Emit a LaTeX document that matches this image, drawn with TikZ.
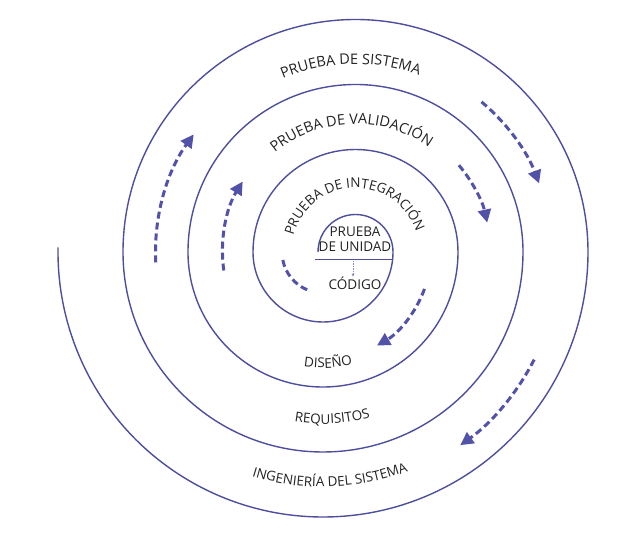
\documentclass[tikz,border=0pt]{standalone}
\usepackage{fontspec}
\setmainfont{Open Sans}
\usepackage{tikz}
\usetikzlibrary{arrows.meta,decorations.text,calc}

\definecolor{spiralblue}{HTML}{4E4E9E}
\definecolor{arrowblue}{HTML}{5252A8}
\definecolor{inktext}{HTML}{222222}
\newcommand{\ringfont}{\fontsize{13.5}{15}\selectfont}
\newcommand{\widefont}{\fontsize{14.5}{16}\selectfont}

\begin{document}
\begin{tikzpicture}[x=1pt, y=1pt,
  spiral/.style={spiralblue, line width=1.4pt},
  flow/.style={arrowblue, line width=3pt, dash pattern=on 7pt off 4pt,
    -{Triangle[length=13pt,width=13pt]}},
  ringtext/.style={decorate, decoration={text along path, text align=center,
    text color=inktext, text={|\ringfont|#1}}},
  widetext/.style={decorate, decoration={text along path, text align=center,
    text color=inktext, text={|\widefont|#1}}},
  label/.style={text=inktext, font=\ringfont, align=center, inner sep=0pt}]
  \useasboundingbox (0,0) rectangle (638,538);
  \coordinate (U) at (355.5,286);
  \coordinate (D) at (323,286);
  \coordinate (start) at (318,286);

  % Spiral: upper halves round U, lower halves round D
  \draw[spiral] (start)
    arc[start angle=180, end angle=0, radius=37.5]
    arc[start angle=0, end angle=-180, radius=70]
    arc[start angle=180, end angle=0, radius=102.5]
    arc[start angle=0, end angle=-180, radius=135]
    arc[start angle=180, end angle=0, radius=167.5]
    arc[start angle=0, end angle=-180, radius=200]
    arc[start angle=180, end angle=0, radius=232.5]
    arc[start angle=0, end angle=-181, radius=265];

  % Centre
  \node[label] (unit) at (355,298.5) {PRUEBA\\DE UNIDAD};
  \coordinate (bar west) at (315,279);
  \coordinate (bar east) at (393,279);
  \draw[spiralblue, line width=0.8pt] (bar west) -- (bar east);
  \node[label] (code) at (355,255) {CÓDIGO};
  \coordinate (bar mid) at (353,277);
  \draw[arrowblue!70, line width=0.5pt, dash pattern=on 1.5pt off 1pt,
    -{Triangle[length=2.5pt,width=2.5pt]}] (bar mid) -- (bar mid |- code.north);

  % Labels along the rings
  \path[ringtext={PRUEBA DE INTEGRACIÓN}] ([shift={(U)}]180:64)
    arc[start angle=180, end angle=4, radius=64];
  \path[widetext={PRUEBA DE VALIDACIÓN}] ([shift={(U)}]152:128)
    arc[start angle=152, end angle=32, radius=128];
  \path[widetext={PRUEBA DE SISTEMA}] ([shift={(U)}]131.5:188)
    arc[start angle=131.5, end angle=51.5, radius=188];
  \path[ringtext={DISEÑO}] ([shift={(D)}]-117.4:116)
    arc[start angle=-117.4, end angle=-57.4, radius=116];
  \path[ringtext={REQUISITOS}] ([shift={(D)}]-116.8:172)
    arc[start angle=-116.8, end angle=-56.8, radius=172];
  \path[ringtext={INGENIERÍA DEL SISTEMA}] ([shift={(D)}]-128.2:235)
    arc[start angle=-128.2, end angle=-48.2, radius=235];

  % Flow arrows
  \draw[flow] ([shift={(U)}]183:200) arc[start angle=183, end angle=144, radius=200];
  \draw[flow] ([shift={(U)}]188:133) arc[start angle=188, end angle=148, radius=133];
  \draw[flow] ([shift={(U)}]50:196) arc[start angle=50, end angle=20.5, radius=196];
  \draw[flow] ([shift={(U)}]40:135) arc[start angle=40, end angle=12.6, radius=135];
  \draw[flow] ([shift={(D)}]-20:108) arc[start angle=-20, end angle=-60, radius=108];
  \draw[flow] ([shift={(D)}]-27:237) arc[start angle=-27, end angle=-54.6, radius=237];
  \draw[flow, -] ([shift={(D)}]-168.7:41) arc[start angle=-168.7, end angle=-111.5, radius=41];
\end{tikzpicture}
\end{document}
